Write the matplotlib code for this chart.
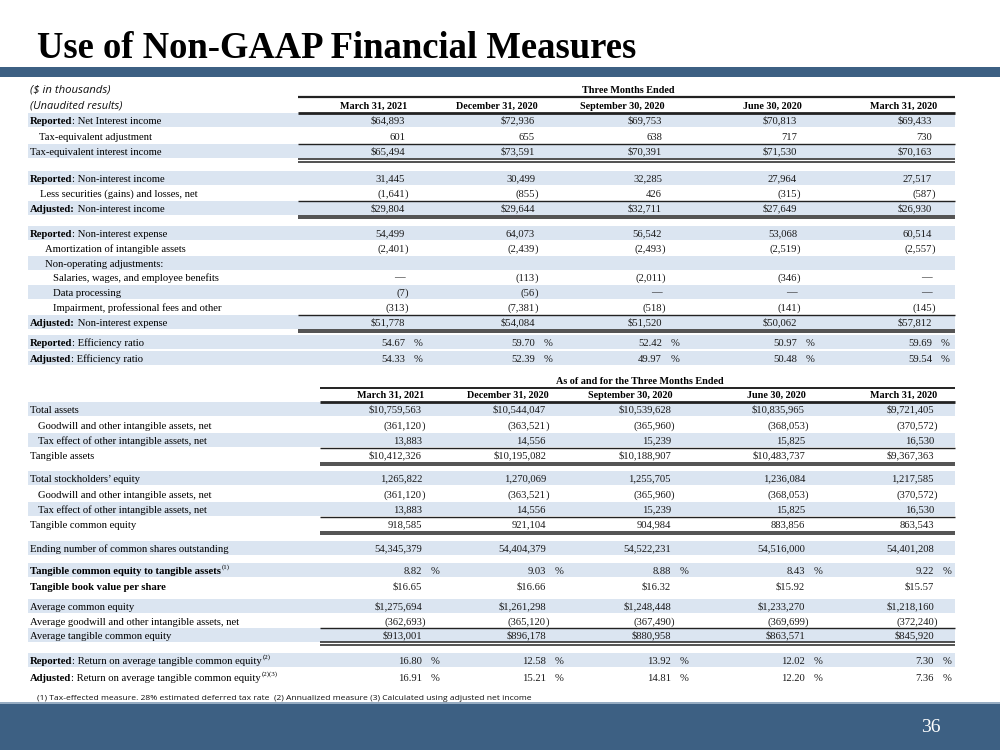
import matplotlib
matplotlib.use("Agg")
import matplotlib.pyplot as plt
from matplotlib.patches import Rectangle

# ------------------------------------------------------------------ data
title = "Use of Non-GAAP Financial Measures"
units_note = "($ in thousands)"
unaudited_note = "(Unaudited results)"
upper_group = "Three Months Ended"
lower_group = "As of and for the Three Months Ended"
periods = ["March 31, 2021", "December 31, 2020", "September 30, 2020",
           "June 30, 2020", "March 31, 2020"]

# labels: (bold part, normal part, superscript)
upper_labels = [
    ("Reported", ": Net Interest income", ""),
    ("", "Tax-equivalent adjustment", ""),
    ("", "Tax-equivalent interest income", ""),
    ("Reported", ": Non-interest income", ""),
    ("", "Less securities (gains) and losses, net", ""),
    ("Adjusted:", " Non-interest income", ""),
    ("Reported", ": Non-interest expense", ""),
    ("", "Amortization of intangible assets", ""),
    ("", "Non-operating adjustments:", ""),
    ("", "Salaries, wages, and employee benefits", ""),
    ("", "Data processing", ""),
    ("", "Impairment, professional fees and other", ""),
    ("Adjusted:", " Non-interest expense", ""),
    ("Reported", ": Efficiency ratio", ""),
    ("Adjusted", ": Efficiency ratio", ""),
]
upper_kinds = ["$", "n", "$", "n", "n", "$", "n", "n", "", "n", "n", "n", "$", "%", "%"]
net_interest_income = [64893, 72936, 69753, 70813, 69433]
tax_equiv_adj = [601, 655, 638, 717, 730]
tax_equiv_income = [65494, 73591, 70391, 71530, 70163]
non_interest_income = [31445, 30499, 32285, 27964, 27517]
securities_gains = [-1641, -855, 426, -315, -587]
adj_non_interest_income = [29804, 29644, 32711, 27649, 26930]
non_interest_expense = [54499, 64073, 56542, 53068, 60514]
amortization = [-2401, -2439, -2493, -2519, -2557]
non_operating = [None, None, None, None, None]
salaries = [None, -113, -2011, -346, None]
data_processing = [-7, -56, None, None, None]
impairment = [-313, -7381, -518, -141, -145]
adj_non_interest_expense = [51778, 54084, 51520, 50062, 57812]
efficiency_reported = [54.67, 59.70, 52.42, 50.97, 59.69]
efficiency_adjusted = [54.33, 52.39, 49.97, 50.48, 59.54]
upper_values = [net_interest_income, tax_equiv_adj, tax_equiv_income,
                non_interest_income, securities_gains, adj_non_interest_income,
                non_interest_expense, amortization, non_operating, salaries,
                data_processing, impairment, adj_non_interest_expense,
                efficiency_reported, efficiency_adjusted]

lower_labels = [
    ("", "Total assets", ""),
    ("", "Goodwill and other intangible assets, net", ""),
    ("", "Tax effect of other intangible assets, net", ""),
    ("", "Tangible assets", ""),
    ("", "Total stockholders\u2019 equity", ""),
    ("", "Goodwill and other intangible assets, net", ""),
    ("", "Tax effect of other intangible assets, net", ""),
    ("", "Tangible common equity", ""),
    ("", "Ending number of common shares outstanding", ""),
    ("Tangible common equity to tangible assets", "", "(1)"),
    ("Tangible book value per share", "", ""),
    ("", "Average common equity", ""),
    ("", "Average goodwill and other intangible assets, net", ""),
    ("", "Average tangible common equity", ""),
    ("Reported", ": Return on average tangible common equity", "(2)"),
    ("Adjusted", ": Return on average tangible common equity", "(2)(3)"),
]
lower_kinds = ["$", "n", "n", "$", "n", "n", "n", "n", "n", "%", "$2", "$", "n", "$", "%", "%"]
total_assets = [10759563, 10544047, 10539628, 10835965, 9721405]
goodwill = [-361120, -363521, -365960, -368053, -370572]
tax_effect = [13883, 14556, 15239, 15825, 16530]
tangible_assets = [10412326, 10195082, 10188907, 10483737, 9367363]
stockholders_equity = [1265822, 1270069, 1255705, 1236084, 1217585]
tangible_common_equity = [918585, 921104, 904984, 883856, 863543]
shares_outstanding = [54345379, 54404379, 54522231, 54516000, 54401208]
tce_to_ta = [8.82, 9.03, 8.88, 8.43, 9.22]
tbv_per_share = [16.65, 16.66, 16.32, 15.92, 15.57]
avg_common_equity = [1275694, 1261298, 1248448, 1233270, 1218160]
avg_goodwill = [-362693, -365120, -367490, -369699, -372240]
avg_tce = [913001, 896178, 880958, 863571, 845920]
roatce_reported = [16.80, 12.58, 13.92, 12.02, 7.30]
roatce_adjusted = [16.91, 15.21, 14.81, 12.20, 7.36]
lower_values = [total_assets, goodwill, tax_effect, tangible_assets,
                stockholders_equity, goodwill, tax_effect, tangible_common_equity,
                shares_outstanding, tce_to_ta, tbv_per_share, avg_common_equity,
                avg_goodwill, avg_tce, roatce_reported, roatce_adjusted]

footnote = ("(1) Tax-effected measure. 28% estimated deferred tax rate  "
            "(2) Annualized measure (3) Calculated using adjusted net income")
page_number = "36"

# ------------------------------------------------------------------ layout / style
BAND = "#3d6083"
SHADE = "#dbe5f1"
SERIF = "Liberation Serif"
SANS = "Open Sans"
BODY = 7.7
HEAD = 7.3

upper_y = [120, 136, 151, 178, 193, 208, 233, 248, 263, 277, 292, 307, 322, 342, 358]
upper_indent = [30, 39, 30, 30, 40, 30, 30, 45, 45, 53, 53, 53, 30, 30, 30]
upper_shade = [1, 0, 1, 1, 0, 1, 1, 0, 1, 0, 1, 0, 1, 1, 1]
upper_edges = [405, 535, 662, 797, 932]
upper_head_cx = [374, 497, 622, 772, 904]

lower_y = [409, 425, 440, 455, 478, 494, 509, 524, 548, 570, 586, 606, 621, 635, 660, 677]
lower_indent = [30, 38, 38, 30, 30, 38, 38, 30, 30, 30, 30, 30, 30, 30, 30, 30]
lower_shade = [1, 0, 1, 0, 1, 0, 1, 0, 1, 1, 0, 1, 0, 1, 1, 0]
lower_edges = [422, 546, 671, 805, 934]
lower_head_cx = [391, 508, 630, 776, 904]

fig = plt.figure(figsize=(10, 7.5), dpi=100)
ax = fig.add_axes([0, 0, 1, 1])
ax.set_xlim(0, 1000)
ax.set_ylim(750, 0)
ax.axis("off")
renderer = fig.canvas.get_renderer()


def wid(t):
    return t.get_window_extent(renderer=renderer).width


def hline(y, x0, x1, lw=1.0, color="#222222"):
    ax.plot([x0, x1], [y, y], color=color, lw=lw, solid_capstyle="butt")


def dline(y, x0, x1):
    hline(y, x0, x1, lw=1.1)
    hline(y + 2.6, x0, x1, lw=1.1)


def draw_label(x, y, lab):
    bold, normal, sup = lab
    base = y + 3.6
    if bold:
        t = ax.text(x, base, bold, family=SERIF, fontsize=BODY, weight="bold",
                    va="baseline", ha="left")
        x += wid(t)
    if normal:
        t = ax.text(x, base, normal, family=SERIF, fontsize=BODY, va="baseline", ha="left")
        x += wid(t)
    if sup:
        ax.text(x + 0.5, base - 5, sup, family=SERIF, fontsize=5.0, va="baseline", ha="left")


def draw_value(edge, y, v, kind):
    base = y + 3.6
    kw = dict(family=SERIF, fontsize=BODY, va="baseline", color="#1a1a1a")
    if kind == "":
        return
    if v is None:
        ax.text(edge, base, "\u2014", ha="right", **kw)
        return
    if kind == "%":
        ax.text(edge, base, f"{v:.2f}", ha="right", **kw)
        ax.text(edge + 8.5, base, "%", ha="left", **kw)
        return
    if kind == "$2":
        ax.text(edge, base, f"${v:,.2f}", ha="right", **kw)
        return
    if v < 0:
        ax.text(edge, base, f"({abs(v):,}", ha="right", **kw)
        ax.text(edge, base, ")", ha="left", **kw)
        return
    s = f"{v:,}"
    if kind == "$":
        s = "$" + s
    ax.text(edge, base, s, ha="right", **kw)


def draw_table(labels, kinds, values, ys, indents, shades, edges):
    for i, lab in enumerate(labels):
        y = ys[i]
        if shades[i]:
            ax.add_patch(Rectangle((28, y - 7.2), 927, 14.4, color=SHADE, lw=0, zorder=0))
        draw_label(indents[i], y, lab)
        for j in range(len(periods)):
            draw_value(edges[j], y, values[i][j], kinds[i])


# bands
ax.add_patch(Rectangle((0, 67), 1000, 10, color=BAND, lw=0))
ax.add_patch(Rectangle((0, 702), 1000, 48, color=BAND, lw=0))
hline(702.5, 0, 1000, lw=1.2, color="#a9bccf")

# title (fit to the reference width)
t = ax.text(37, 58, title, family=SERIF, weight="bold", fontsize=26, va="baseline",
            ha="left", color="black")
t.set_fontsize(26 * 599 / wid(t))

# upper table header
n1 = ax.text(30, 92.5, units_note, family=SANS, style="italic", fontsize=8.0,
             va="baseline", color="#111111")
n1.set_fontsize(8.0 * 80 / wid(n1))
n2 = ax.text(30, 108.5, unaudited_note, family=SANS, style="italic", fontsize=8.0,
             va="baseline", color="#111111")
n2.set_fontsize(8.0 * 92 / wid(n2))
ax.text(628, 93, upper_group, family=SERIF, weight="bold", fontsize=HEAD, ha="center",
        va="baseline")
hline(97, 298, 955, lw=1.6)
for cx, p in zip(upper_head_cx, periods):
    ax.text(cx, 109, p, family=SERIF, weight="bold", fontsize=HEAD, ha="center",
            va="baseline")
hline(113, 298, 955, lw=2.0)

draw_table(upper_labels, upper_kinds, upper_values, upper_y, upper_indent,
           upper_shade, upper_edges)
hline(143.5, 298, 955)
dline(159, 298, 955)
hline(200.5, 298, 955)
dline(215.5, 298, 955)
hline(314.5, 298, 955)
dline(329.5, 298, 955)

# lower table header
ax.text(640, 384, lower_group, family=SERIF, weight="bold", fontsize=HEAD, ha="center",
        va="baseline")
hline(387.5, 320, 955, lw=1.4)
for cx, p in zip(lower_head_cx, periods):
    ax.text(cx, 398, p, family=SERIF, weight="bold", fontsize=HEAD, ha="center",
            va="baseline")
hline(401.5, 320, 955, lw=2.0)

draw_table(lower_labels, lower_kinds, lower_values, lower_y, lower_indent,
           lower_shade, lower_edges)
hline(447.5, 320, 955)
dline(462.5, 320, 955)
hline(516.5, 320, 955)
dline(531.5, 320, 955)
hline(627.5, 320, 955)
dline(642, 320, 955)

# footnote and page number
fn = ax.text(37, 699.5, footnote, family=SANS, fontsize=6.0, va="baseline",
             color="#111111")
fn.set_fontsize(6.0 * 493 / wid(fn))
ax.text(931, 728, page_number, family=SERIF, fontsize=14, color="white", ha="center",
        va="center")

fig.savefig("out.png", dpi=100)
